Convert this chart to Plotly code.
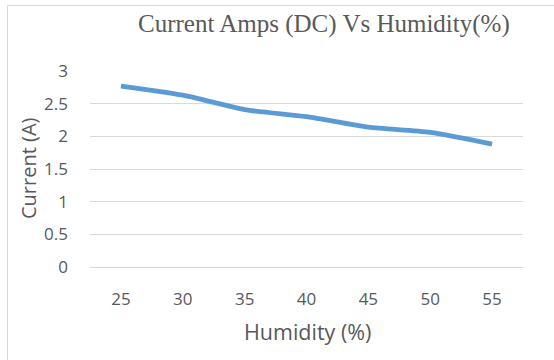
import plotly.graph_objects as go

humidity = ["25", "30", "35", "40", "45", "50", "55"]
current = [2.77, 2.63, 2.41, 2.30, 2.14, 2.06, 1.88]
y_ticks = [0, 0.5, 1, 1.5, 2, 2.5, 3]
y_tick_text = ["0", "0.5", "1", "1.5", "2", "2.5", "3"]

W, H = 554, 360
L, R, T, B = 90, 523, 71, 267  # plot area in px


def px(x):
    return (x - L) / (R - L)


def py(y):
    return (B - y) / (B - T)


fig = go.Figure()
fig.add_trace(go.Scatter(
    x=humidity, y=current, mode="lines",
    line=dict(color="#5B9BD5", width=4.8, shape="spline", smoothing=0.7),
    cliponaxis=False, showlegend=False, hoverinfo="skip",
))

tickfont = dict(family="Open Sans", size=17, color="#595959")

fig.update_layout(
    width=W, height=H,
    margin=dict(l=L, r=W - R, t=T, b=H - B),
    paper_bgcolor="white", plot_bgcolor="white",
    xaxis=dict(type="category", range=[-0.5, 6.5], showgrid=False, zeroline=False,
               showline=False, ticks="", tickfont=tickfont, ticklabelstandoff=20),
    yaxis=dict(range=[0, 3], tickvals=y_ticks, ticktext=y_tick_text, showgrid=True,
               gridcolor="#D9D9D9", gridwidth=1, zeroline=True, zerolinecolor="#D9D9D9",
               zerolinewidth=1, showline=False,
               ticks="", tickfont=tickfont, ticklabelstandoff=21),
    annotations=[
        dict(text="Current Amps (DC) Vs Humidity(%)", x=px(324), y=py(24),
             xref="paper", yref="paper", showarrow=False, xanchor="center", yanchor="middle",
             font=dict(family="Liberation Serif", size=25, color="#595959")),
        dict(text="Current (A)", x=px(28), y=py(168), textangle=-90,
             xref="paper", yref="paper", showarrow=False, xanchor="center", yanchor="middle",
             font=dict(family="Open Sans", size=20, color="#595959")),
        dict(text="Humidity (%)", x=px(307), y=py(331),
             xref="paper", yref="paper", showarrow=False, xanchor="center", yanchor="middle",
             font=dict(family="Open Sans", size=21.5, color="#595959")),
    ],
    shapes=[
        dict(type="line", xref="paper", yref="paper", x0=px(7.5), x1=px(560),
             y0=py(5.5), y1=py(5.5), line=dict(color="#D9D9D9", width=1)),
        dict(type="line", xref="paper", yref="paper", x0=px(7.5), x1=px(7.5),
             y0=py(5.5), y1=py(370), line=dict(color="#D9D9D9", width=1)),
    ],
)

fig.write_html("out.html")
